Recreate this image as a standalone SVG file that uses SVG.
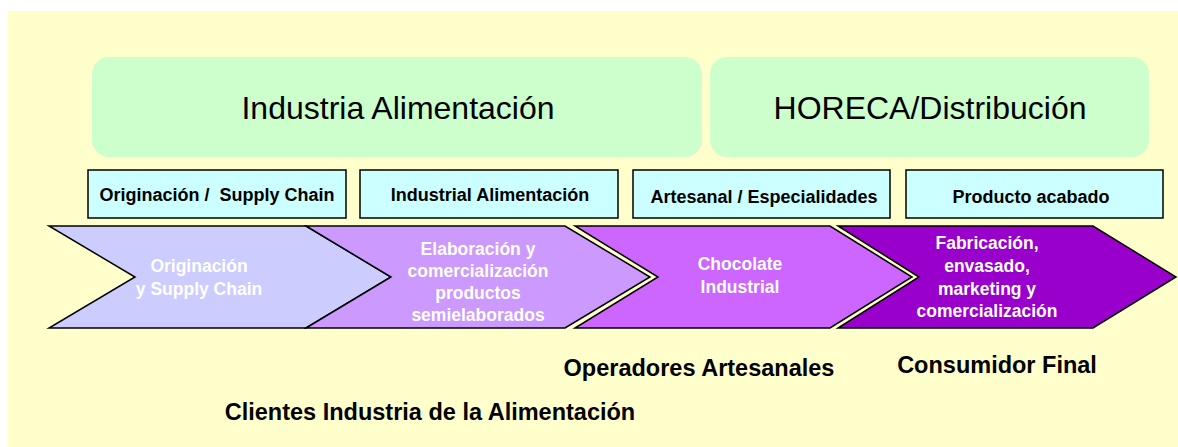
<svg xmlns="http://www.w3.org/2000/svg" width="1178" height="447" viewBox="0 0 1178 447">
<style>
.bg{fill:#FFFFCC}
.grp{fill:#CCFFCC}
.title{font-family:"Liberation Sans",Arial,sans-serif;font-size:32px;fill:#000;text-anchor:middle}
.cat{fill:#CCFFFF;stroke:#000;stroke-width:1.5}
.catt{font-family:"Liberation Sans",Arial,sans-serif;font-size:18px;font-weight:bold;fill:#000;text-anchor:middle;white-space:pre}
.chev{stroke:#000;stroke-width:1.5;stroke-linejoin:miter}
.chevt{font-family:"Liberation Sans",Arial,sans-serif;font-size:17.5px;font-weight:bold;fill:#FFFFFF;text-anchor:middle}
.lbl{font-family:"Liberation Sans",Arial,sans-serif;font-size:23.5px;font-weight:bold;fill:#000;text-anchor:middle}
</style>
<rect x="0" y="0" width="1178" height="447" fill="#FFFFFF"/>
<rect class="bg" x="8" y="11" width="1170" height="436"/>

<g id="grp-industria">
<rect class="grp" x="92" y="57" width="610" height="100" rx="17"/>
<text class="title" x="398" y="119">Industria Alimentación</text>
</g>
<g id="grp-horeca">
<rect class="grp" x="710" y="57" width="439" height="100" rx="17"/>
<text class="title" x="930" y="119">HORECA/Distribución</text>
</g>

<g id="cat-origen">
<rect class="cat" x="88" y="170" width="258" height="48"/>
<text class="catt" x="217" y="201" xml:space="preserve">Originación /  Supply Chain</text>
</g>
<g id="cat-industrial">
<rect class="cat" x="360" y="170" width="258" height="48"/>
<text class="catt" x="490" y="201">Industrial Alimentación</text>
</g>
<g id="cat-artesanal">
<rect class="cat" x="633" y="170" width="257" height="48"/>
<text class="catt" x="764" y="203">Artesanal / Especialidades</text>
</g>
<g id="cat-producto">
<rect class="cat" x="906" y="170" width="257" height="48"/>
<text class="catt" x="1031" y="203">Producto acabado</text>
</g>

<g id="chev-1">
<path class="chev" fill="#CCCCFF" d="M49,226 L306,226 L391,277 L306,328 L49,328 L135,277 Z"/>
<text class="chevt" x="199" y="271.5">Originación</text>
<text class="chevt" x="199" y="294.5">y Supply Chain</text>
</g>
<g id="chev-2">
<path class="chev" fill="#CC99FF" d="M306,226 L565,226 L650,277 L565,328 L306,328 L391,277 Z"/>
<text class="chevt" x="478" y="254.5">Elaboración y</text>
<text class="chevt" x="478" y="276.5">comercialización</text>
<text class="chevt" x="478" y="298.5">productos</text>
<text class="chevt" x="478" y="320.5">semielaborados</text>
</g>
<g id="chev-3">
<path class="chev" fill="#CC66FF" d="M575,226 L830,226 L912,277 L830,328 L575,328 L658,277 Z"/>
<text class="chevt" x="740" y="270">Chocolate</text>
<text class="chevt" x="740" y="293">Industrial</text>
</g>
<g id="chev-4">
<path class="chev" fill="#9900CC" d="M838,226 L1093,226 L1176,277 L1093,328 L838,328 L919,277 Z"/>
<text class="chevt" x="987" y="249">Fabricación,</text>
<text class="chevt" x="987" y="272">envasado,</text>
<text class="chevt" x="987" y="295">marketing y</text>
<text class="chevt" x="987" y="317">comercialización</text>
</g>

<g id="connectors"></g>

<g id="lbl-operadores"><text class="lbl" x="699" y="376">Operadores Artesanales</text></g>
<g id="lbl-consumidor"><text class="lbl" x="997" y="373">Consumidor Final</text></g>
<g id="lbl-clientes"><text class="lbl" x="430" y="420">Clientes Industria de la Alimentación</text></g>
</svg>
